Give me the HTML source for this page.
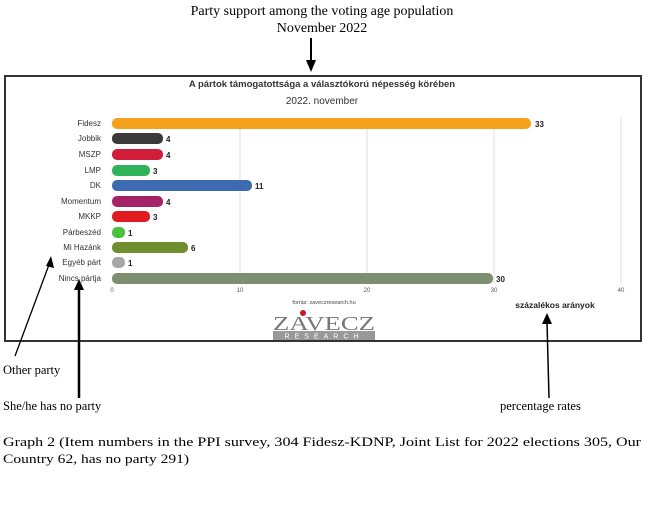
<!DOCTYPE html>
<html><head><meta charset="utf-8"><style>
html,body{margin:0;padding:0;background:#fff;width:646px;height:508px;overflow:hidden}
svg{display:block}
</style></head><body>
<svg width="646" height="508" viewBox="0 0 646 508" xmlns="http://www.w3.org/2000/svg">
<g font-family="Liberation Serif, serif" font-size="14" fill="#000">
<text x="322" y="15" text-anchor="middle">Party support among the voting age population</text>
<text x="322" y="32" text-anchor="middle">November 2022</text>
</g>
<line x1="311" y1="38" x2="311" y2="70" stroke="#000" stroke-width="2"/>
<path d="M306,60 L316,60 L311,72 Z" fill="#000"/>
<rect x="5" y="76" width="636" height="265" fill="#fff" stroke="#333" stroke-width="2"/>
<g font-family="Liberation Sans, sans-serif" font-weight="bold" font-size="9.5" fill="#333" text-anchor="middle">
<text x="322" y="87">A pártok támogatottsága a választókorú népesség körében</text>
<text x="322" y="104" font-weight="normal" font-size="10">2022. november</text>
</g>
<g stroke="#ddd" stroke-width="1">
<line x1="240" y1="117" x2="240" y2="284"/>
<line x1="367" y1="117" x2="367" y2="284"/>
<line x1="494" y1="117" x2="494" y2="284"/>
<line x1="621" y1="117" x2="621" y2="284"/>
</g>
<g font-family="Liberation Sans, sans-serif" font-size="8" fill="#333" text-anchor="end">
<text x="101" y="126">Fidesz</text>
<text x="101" y="141">Jobbik</text>
<text x="101" y="157">MSZP</text>
<text x="101" y="173">LMP</text>
<text x="101" y="188">DK</text>
<text x="101" y="204">Momentum</text>
<text x="101" y="219">MKKP</text>
<text x="101" y="235">Párbeszéd</text>
<text x="101" y="250">Mi Hazánk</text>
<text x="101" y="265">Egyéb párt</text>
<text x="101" y="281">Nincs pártja</text>
</g>
<g>
<rect x="112" y="118" width="419" height="11" rx="5" fill="#f5a11c"/>
<rect x="112" y="133" width="51" height="11" rx="5" fill="#3a3a3a"/>
<rect x="112" y="149" width="51" height="11" rx="5" fill="#d01e3a"/>
<rect x="112" y="165" width="38" height="11" rx="5" fill="#2eb35a"/>
<rect x="112" y="180" width="140" height="11" rx="5" fill="#3d6ab0"/>
<rect x="112" y="196" width="51" height="11" rx="5" fill="#a3226a"/>
<rect x="112" y="211" width="38" height="11" rx="5" fill="#e01b22"/>
<rect x="112" y="227" width="13" height="11" rx="5" fill="#4cbf3c"/>
<rect x="112" y="242" width="76" height="11" rx="5" fill="#6f8f2e"/>
<rect x="112" y="257" width="13" height="11" rx="5" fill="#a7a7a7"/>
<rect x="112" y="273" width="381" height="11" rx="5" fill="#7d8f6e"/>
</g>
<g font-family="Liberation Sans, sans-serif" font-weight="bold" font-size="8" fill="#222">
<text x="535" y="127">33</text>
<text x="166" y="142">4</text>
<text x="166" y="158">4</text>
<text x="153" y="174">3</text>
<text x="255" y="189">11</text>
<text x="166" y="205">4</text>
<text x="153" y="220">3</text>
<text x="128" y="236">1</text>
<text x="191" y="251">6</text>
<text x="128" y="266">1</text>
<text x="496" y="282">30</text>
</g>
<g font-family="Liberation Sans, sans-serif" font-size="6" fill="#555" text-anchor="middle">
<text x="112" y="292">0</text><text x="240" y="292">10</text><text x="367" y="292">20</text><text x="494" y="292">30</text><text x="621" y="292">40</text>
</g>
<text x="324" y="304" font-family="Liberation Sans, sans-serif" font-size="5.5" fill="#444" text-anchor="middle">forrás: zaveczresearch.hu</text>
<text x="555" y="308" font-family="Liberation Sans, sans-serif" font-weight="bold" font-size="8.5" fill="#222" text-anchor="middle">százalékos arányok</text>
<circle cx="303" cy="313" r="3" fill="#c41a2a"/>
<text x="324" y="330" font-family="Liberation Serif, serif" font-size="20" fill="#777" text-anchor="middle" textLength="102" lengthAdjust="spacingAndGlyphs">ZAVECZ</text>
<rect x="273" y="331" width="102" height="9" fill="#999"/>
<text x="324" y="338.5" font-family="Liberation Sans, sans-serif" font-size="7" fill="#fff" text-anchor="middle" letter-spacing="5">RESEARCH</text>
<line x1="15" y1="356" x2="50" y2="262" stroke="#000" stroke-width="1.3"/>
<path d="M46,266 L54,268 L51,256 Z" fill="#000"/>
<line x1="79" y1="398" x2="79" y2="286" stroke="#000" stroke-width="2.5"/>
<path d="M74,290 L84,290 L79,279 Z" fill="#000"/>
<line x1="549" y1="398" x2="547" y2="322" stroke="#000" stroke-width="1.5"/>
<path d="M542,324 L552,324 L547,313 Z" fill="#000"/>
<g font-family="Liberation Serif, serif" font-size="12.5" fill="#000">
<text x="3" y="374">Other party</text>
<text x="3" y="410">She/he has no party</text>
<text x="500" y="410">percentage rates</text>
<text x="3" y="446" textLength="638" lengthAdjust="spacingAndGlyphs">Graph 2 (Item numbers in the PPI survey, 304 Fidesz-KDNP, Joint List for 2022 elections 305, Our</text>
<text x="3" y="463" textLength="186" lengthAdjust="spacingAndGlyphs">Country 62, has no party 291)</text>
</g>
</svg>
</body></html>
